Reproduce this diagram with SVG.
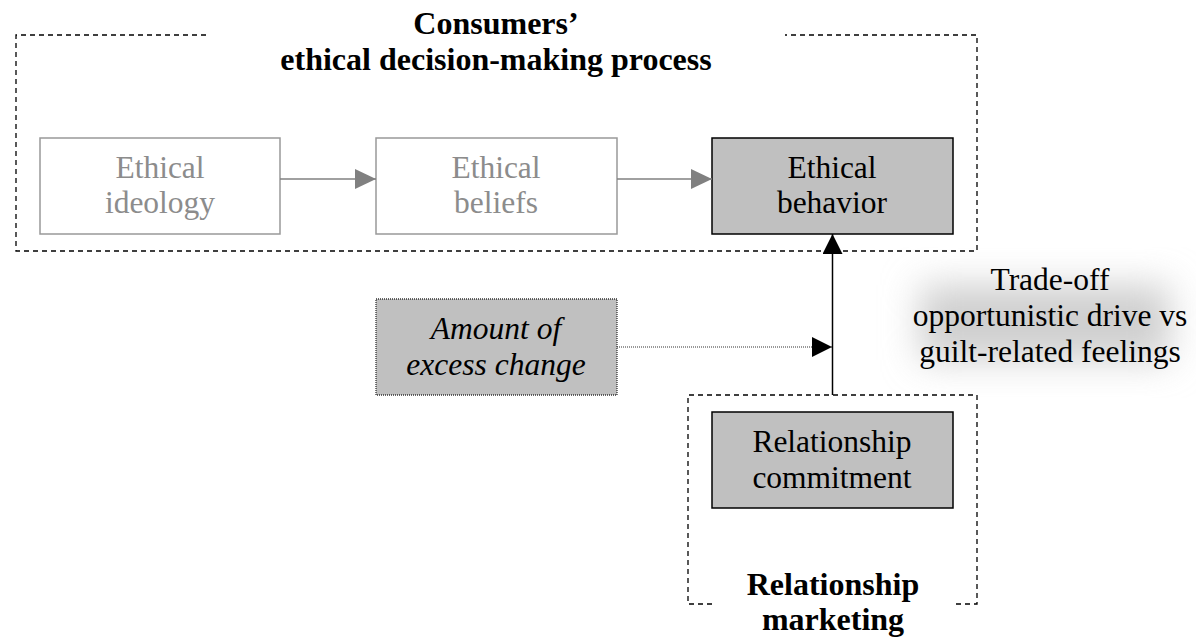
<svg xmlns="http://www.w3.org/2000/svg" width="1196" height="642" viewBox="0 0 1196 642" font-family="Liberation Serif, DejaVu Serif, serif">
<style>
text{font-family:'Liberation Serif','DejaVu Serif',serif;font-size:31.5px;text-anchor:middle;fill:#000}
.bold{font-weight:bold;font-size:32px}
.faint{fill:#8c8c8c}
.ital{font-style:italic}
.grp{fill:none;stroke:#000;stroke-width:1.3;stroke-dasharray:5,4}
.box{stroke:#000;stroke-width:1.5;fill:#c0c0c0}
.lbox{stroke:#999;stroke-width:1.5;fill:#fff}
</style>
<defs>
<marker id="ag" viewBox="0 0 21 20" markerWidth="21" markerHeight="20" refX="21" refY="10" orient="auto" markerUnits="userSpaceOnUse"><path d="M0,0 L21,10 L0,20 Z" fill="#808080"/></marker>
<marker id="ab" viewBox="0 0 20 20" markerWidth="20" markerHeight="20" refX="20" refY="10" orient="auto" markerUnits="userSpaceOnUse"><path d="M0,0 L20,10 L0,20 Z" fill="#000"/></marker>
<filter id="blur" x="-50%" y="-50%" width="200%" height="200%"><feGaussianBlur stdDeviation="18"/></filter>
</defs>
<rect width="1196" height="642" fill="#fff"/>
<g id="group-consumers">
<path class="grp" d="M206,35 H16 V251 H977 V35 H785"/>
<text class="bold" x="496" y="34">Consumers’</text>
<text class="bold" x="496" y="70">ethical decision-making process</text>
</g>
<g id="group-relationship">
<path class="grp" d="M712,604 H688 V395 H977 V604 H953"/>
<text class="bold" x="833" y="595">Relationship</text>
<text class="bold" x="833" y="630">marketing</text>
</g>
<g id="node-ideology">
<rect class="lbox" x="40" y="138" width="240" height="96"/>
<text class="faint" x="160" y="178">Ethical</text>
<text class="faint" x="160" y="213">ideology</text>
</g>
<g id="node-beliefs">
<rect class="lbox" x="376" y="138" width="241" height="96"/>
<text class="faint" x="496" y="178">Ethical</text>
<text class="faint" x="496" y="213">beliefs</text>
</g>
<g id="node-behavior">
<rect class="box" x="712" y="138" width="241" height="96"/>
<text x="832" y="178">Ethical</text>
<text x="832" y="213">behavior</text>
</g>
<g id="node-excess">
<rect x="376" y="299" width="241" height="96" fill="#c0c0c0" stroke="#333" stroke-width="1.3" stroke-dasharray="1,1"/>
<text class="ital" x="496" y="339">Amount of</text>
<text class="ital" x="496" y="375">excess change</text>
</g>
<g id="node-commitment">
<rect class="box" x="712" y="412" width="241" height="96"/>
<text x="832" y="452">Relationship</text>
<text x="832" y="488">commitment</text>
</g>
<g id="label-tradeoff">
<rect x="920" y="285" width="250" height="75" fill="#cfcfcf" filter="url(#blur)"/>
<text x="1050" y="290">Trade-off</text>
<text x="1050" y="326">opportunistic drive vs</text>
<text x="1050" y="362">guilt-related feelings</text>
</g>
<g id="connectors">
<line x1="280" y1="179" x2="376" y2="179" stroke="#808080" stroke-width="1.5" marker-end="url(#ag)"/>
<line x1="617" y1="179" x2="712" y2="179" stroke="#808080" stroke-width="1.5" marker-end="url(#ag)"/>
<line x1="832.5" y1="395" x2="832.5" y2="234" stroke="#000" stroke-width="1.5" marker-end="url(#ab)"/>
<line x1="617" y1="347" x2="832" y2="347" stroke="#333" stroke-width="1.2" stroke-dasharray="1,1" marker-end="url(#ab)"/>
</g>
</svg>
